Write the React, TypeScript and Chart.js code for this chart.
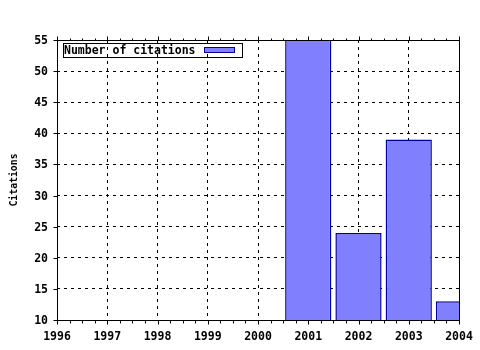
import { useEffect, useRef } from "react";
import { Chart, registerables } from "chart.js";

Chart.register(...registerables);

// ---- data ----
const years = [2001, 2002, 2003, 2004];
const citations = [60, 24, 39, 13];
const seriesLabel = "Number of citations";
const yTitle = "Citations";
const xMin = 1996;
const xMax = 2004;
const yMin = 10;
const yMax = 55;
const yStep = 5;

const FONT = "'DejaVu Sans Mono', 'Liberation Mono', monospace";
const FILL = "#8080ff";
const EDGE = "#0000a0";

const framePlugin = {
  id: "gnuframe",
  afterDatasetsDraw(chart: any) {
    const { ctx, chartArea: a, scales } = chart;
    const x = scales.x;
    const y = scales.y;
    ctx.save();
    ctx.strokeStyle = "#000";
    ctx.lineWidth = 1;
    ctx.setLineDash([]);
    ctx.strokeRect(a.left + 0.5, a.top + 0.5, a.right - a.left, a.bottom - a.top);
    ctx.beginPath();
    for (let i = 0; i <= (xMax - xMin) * 4; i++) {
      const v = xMin + i / 4;
      const major = i % 4 === 0;
      const px = Math.round(x.getPixelForValue(v)) + 0.5;
      const lenB = major ? 4 : 3;
      const lenT = major ? 4 : 2;
      ctx.moveTo(px, a.bottom + 0.5);
      ctx.lineTo(px, a.bottom + 0.5 + lenB);
      ctx.moveTo(px, a.top + 0.5);
      ctx.lineTo(px, a.top + 0.5 - lenT);
    }
    for (let v = yMin; v <= yMax; v += yStep) {
      const py = Math.round(y.getPixelForValue(v)) + 0.5;
      ctx.moveTo(a.left + 0.5, py);
      ctx.lineTo(a.left + 0.5 - 4, py);
    }
    ctx.stroke();
    ctx.restore();
  },
  afterDraw(chart: any) {
    const { ctx, chartArea: a } = chart;
    const ds = chart.data.datasets[0];
    ctx.save();
    const bx = a.left + 6;
    const by = a.top + 3;
    const bw = 179;
    const bh = 14;
    ctx.strokeStyle = "#000";
    ctx.lineWidth = 1;
    ctx.strokeRect(bx + 0.5, by + 0.5, bw, bh);
    ctx.fillStyle = "#000";
    ctx.font = "bold 11.5px " + FONT;
    ctx.textBaseline = "middle";
    ctx.textAlign = "left";
    ctx.fillText(ds.label, bx + 1, by + bh / 2 + 1);
    const sx = bx + 141;
    const sy = by + 4;
    ctx.fillStyle = ds.backgroundColor;
    ctx.fillRect(sx, sy, 31, 6);
    ctx.strokeStyle = ds.borderColor;
    ctx.strokeRect(sx + 0.5, sy + 0.5, 30, 5);
    ctx.restore();
  },
};

export default function App() {
  const ref = useRef<HTMLCanvasElement | null>(null);

  useEffect(() => {
    document.body.style.margin = "0";
    const canvas = ref.current;
    if (!canvas) return;
    const chart = new Chart(canvas, {
      type: "bar",
      data: {
        datasets: [
          {
            label: seriesLabel,
            data: years.map((yr, i) => ({ x: yr, y: citations[i] })),
            backgroundColor: FILL,
            borderColor: EDGE,
            borderWidth: 1.5,
            barPercentage: 0.92,
            categoryPercentage: 1,
            clip: 0,
          } as any,
        ],
      },
      options: {
        responsive: false,
        animation: false,
        devicePixelRatio: 1,
        layout: { padding: { top: 40, right: 21, left: 0, bottom: 0 } },
        plugins: {
          legend: { display: false },
          tooltip: { enabled: false },
        },
        scales: {
          x: {
            type: "linear",
            min: xMin,
            max: xMax,
            offset: false,
            grid: { color: "#000", lineWidth: 1, drawTicks: false, offset: false },
            border: { display: false, dash: [3, 4] },
            ticks: {
              stepSize: 1,
              padding: 10,
              color: "#000",
              maxRotation: 0,
              autoSkip: false,
              font: { family: FONT, size: 11.5, weight: "bold" },
              callback: (v: any) => String(v),
            },
            afterFit: (s: any) => {
              s.height = 30;
              s.paddingLeft = 0;
              s.paddingRight = 0;
              s.paddingTop = 0;
              s.paddingBottom = 0;
            },
          },
          y: {
            type: "linear",
            min: yMin,
            max: yMax,
            grid: { color: "#000", lineWidth: 1, drawTicks: false },
            border: { display: false, dash: [3, 4] },
            ticks: {
              stepSize: yStep,
              padding: 9,
              labelOffset: 1,
              color: "#000",
              font: { family: FONT, size: 11.5, weight: "bold" },
              callback: (v: any) => String(v),
            },
            title: {
              display: true,
              text: yTitle,
              color: "#000",
              font: { family: FONT, size: 9.8, weight: "bold" },
              padding: { top: 9, bottom: 0 },
            },
            afterFit: (s: any) => {
              s.width = 57;
              s.paddingLeft = 0;
              s.paddingRight = 0;
              s.paddingTop = 0;
              s.paddingBottom = 0;
            },
          },
        },
      } as any,
      plugins: [framePlugin],
    });
    return () => chart.destroy();
  }, []);

  return <canvas ref={ref} width={480} height={350} style={{ display: "block" }} />;
}
